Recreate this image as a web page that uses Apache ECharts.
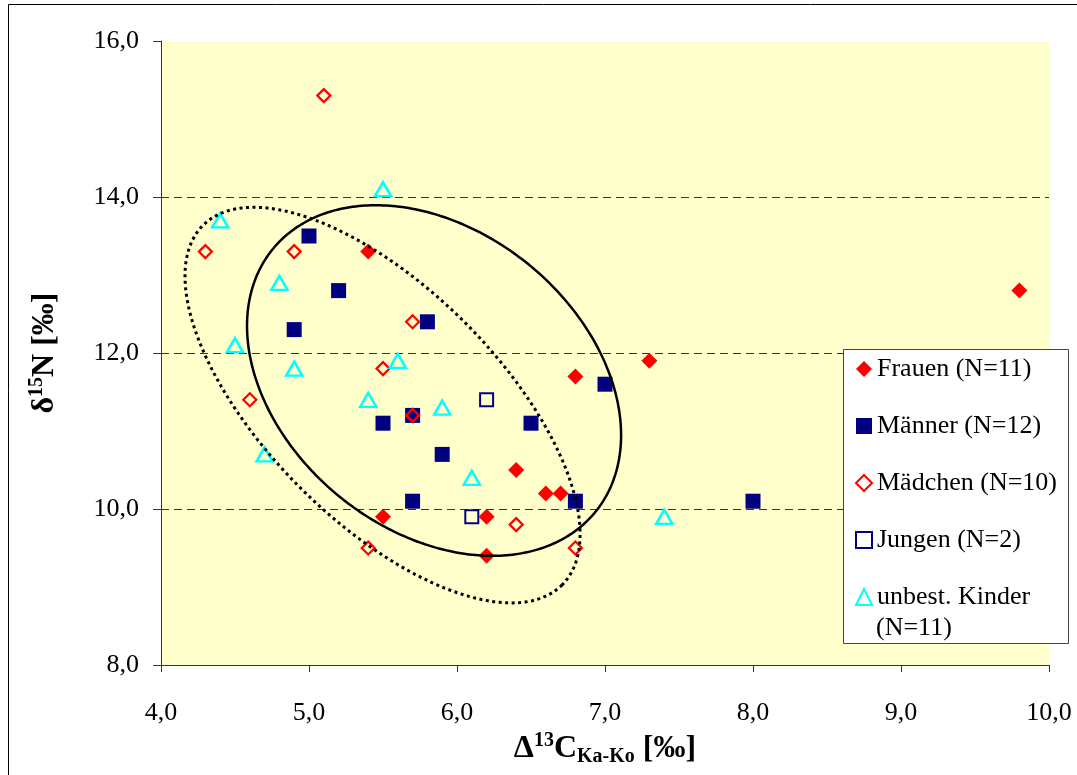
<!DOCTYPE html>
<html>
<head>
<meta charset="utf-8">
<script src="https://cdn.jsdelivr.net/npm/echarts@6/dist/echarts.min.js"></script>
<style>
  html, body { margin: 0; padding: 0; background: #ffffff; }
  #chart { width: 1077px; height: 775px; }
</style>
</head>
<body>
<div id="chart"></div>
<script>
// Axis ranges (Δ13C on x, δ15N on y)
const xRange = [4, 10, 1];
const yRange = [8, 16, 2];

// Adult women
const frauenX = [5.4, 6.8, 7.3, 9.8, 6.4, 6.6, 6.7, 5.5, 6.2, 6.2];
const frauenY = [13.3, 11.7, 11.9, 12.8, 10.5, 10.2, 10.2, 9.9, 9.9, 9.4];

// Adult men
const maennerX = [5.0, 5.2, 4.9, 5.8, 7.0, 5.5, 5.7, 6.5, 5.9, 5.7, 6.8, 8.0];
const maennerY = [13.5, 12.8, 12.3, 12.4, 11.6, 11.1, 11.2, 11.1, 10.7, 10.1, 10.1, 10.1];

// Girls
const maedchenX = [5.1, 4.3, 4.9, 5.7, 5.5, 4.6, 5.7, 6.4, 5.4, 6.8];
const maedchenY = [15.3, 13.3, 13.3, 12.4, 11.8, 11.4, 11.2, 9.8, 9.5, 9.5];

// Boys
const jungenX = [6.2, 6.1];
const jungenY = [11.4, 9.9];

// Children of undetermined sex
const kinderX = [4.4, 5.5, 4.8, 4.5, 4.9, 5.6, 5.4, 5.9, 4.7, 6.1, 7.4];
const kinderY = [13.7, 14.1, 12.9, 12.1, 11.8, 11.9, 11.4, 11.3, 10.7, 10.4, 9.9];

// Group ellipses: centre (x, y) and two conjugate half-axes (ux, uy), (vx, vy) in data units
const adultEllipse = [5.845, 11.647, 1.092, -1.680, -0.636, -1.493];
const childEllipse = [5.497, 11.332, 1.213, -2.305, -0.557, -1.058];

const seriesNames = ['Frauen (N=11)', 'Männer (N=12)', 'Mädchen (N=10)', 'Jungen (N=2)', 'unbest. Kinder (N=11)'];

const FONT = '"Liberation Serif", "Times New Roman", serif';
const RED = '#FF0000', NAVY = '#000080', CYAN = '#00FFFF';

function pairs(xs, ys) { return xs.map((x, i) => [x, ys[i]]); }
function fmt(v) { return v.toFixed(1).replace('.', ','); }

function ellipseRenderer(lineStyle) {
  return function (params, api) {
    const cx = api.value(0), cy = api.value(1);
    const ux = api.value(2), uy = api.value(3), vx = api.value(4), vy = api.value(5);
    const pts = [];
    const n = 360;
    for (let i = 0; i < n; i++) {
      const t = i / n * Math.PI * 2;
      const c = Math.cos(t), s = Math.sin(t);
      pts.push(api.coord([cx + ux * c + vx * s, cy + uy * c + vy * s]));
    }
    return {
      type: 'polygon',
      shape: { points: pts },
      style: Object.assign({ fill: 'none', stroke: '#000000' }, lineStyle)
    };
  };
}

const chart = echarts.init(document.getElementById('chart'), null, { renderer: 'canvas' });

const option = {
  backgroundColor: '#ffffff',
  animation: false,
  textStyle: { fontFamily: FONT },
  grid: {
    left: 161, right: 28, top: 41, bottom: 110,
    show: true, backgroundColor: '#FFFFCC', borderWidth: 0
  },
  xAxis: {
    type: 'value',
    min: xRange[0], max: xRange[1], interval: xRange[2],
    axisLine: { show: true, onZero: false, lineStyle: { color: '#333333', width: 1 } },
    axisTick: { show: true, inside: false, length: 7, lineStyle: { color: '#333333' } },
    axisLabel: { formatter: fmt, color: '#000', fontFamily: FONT, fontSize: 26, margin: 35 },
    splitLine: { show: false },
    name: '{a|Δ}{sup|13}{a|C}{sub|Ka-Ko}{a| [‰]}',
    nameLocation: 'middle',
    nameGap: 66,
    nameTextStyle: {
      rich: {
        a: { fontFamily: FONT, fontWeight: 'bold', fontSize: 32, color: '#000', lineHeight: 36 },
        sup: { fontFamily: FONT, fontWeight: 'bold', fontSize: 20, color: '#000', lineHeight: 20, verticalAlign: 'top' },
        sub: { fontFamily: FONT, fontWeight: 'bold', fontSize: 20, color: '#000', lineHeight: 20, verticalAlign: 'bottom' }
      }
    }
  },
  yAxis: {
    type: 'value',
    min: yRange[0], max: yRange[1], interval: yRange[2],
    axisLine: { show: true, onZero: false, lineStyle: { color: '#333333', width: 1 } },
    axisTick: { show: true, inside: false, length: 8, lineStyle: { color: '#333333' } },
    axisLabel: { formatter: fmt, color: '#000', fontFamily: FONT, fontSize: 26, margin: 22 },
    splitLine: {
      show: true,
      lineStyle: {
        color: ['rgba(0,0,0,0)', '#333333', '#333333', '#333333', 'rgba(0,0,0,0)'],
        type: [8, 5], width: 1
      }
    },
    name: '{a|δ}{sup|15}{a|N [‰]}',
    nameLocation: 'middle',
    nameRotate: 90,
    nameGap: 98,
    nameTextStyle: {
      rich: {
        a: { fontFamily: FONT, fontWeight: 'bold', fontSize: 32, color: '#000', lineHeight: 36 },
        sup: { fontFamily: FONT, fontWeight: 'bold', fontSize: 20, color: '#000', lineHeight: 20, verticalAlign: 'top' }
      }
    }
  },
  legend: {
    data: seriesNames,
    orient: 'vertical',
    left: 855,
    top: 355,
    itemWidth: 16,
    itemHeight: 16,
    itemGap: 29,
    selectedMode: false,
    padding: 0,
    formatter: function (name) { return name === seriesNames[4] ? 'unbest. Kinder' : name; },
    textStyle: { fontFamily: FONT, fontSize: 26, color: '#000', lineHeight: 28 },
    z: 10
  },
  graphic: [
    {
      type: 'rect',
      shape: { x: 843.5, y: 349.5, width: 225, height: 294 },
      style: { fill: '#ffffff', stroke: '#444444', lineWidth: 1 },
      z: 8
    },
    {
      type: 'text',
      style: { x: 876, y: 628, text: '(N=11)', font: '26px ' + FONT, fill: '#000', verticalAlign: 'middle' },
      z: 11
    },
    {
      type: 'rect',
      shape: { x: 8.5, y: 4.5, width: 1100, height: 800 },
      style: { fill: 'none', stroke: '#000000', lineWidth: 1 },
      silent: true,
      z: 20
    }
  ],
  series: [
    {
      name: seriesNames[0], type: 'scatter', data: pairs(frauenX, frauenY),
      symbol: 'diamond', symbolSize: 16,
      itemStyle: { color: RED, opacity: 1 }, z: 2
    },
    {
      name: seriesNames[1], type: 'scatter', data: pairs(maennerX, maennerY),
      symbol: 'rect', symbolSize: 15,
      itemStyle: { color: NAVY, opacity: 1 }, z: 2
    },
    {
      name: seriesNames[2], type: 'scatter', data: pairs(maedchenX, maedchenY),
      symbol: 'diamond', symbolSize: 13,
      itemStyle: { color: 'rgba(0,0,0,0)', borderColor: RED, borderWidth: 2.2, opacity: 1 }, z: 2
    },
    {
      name: seriesNames[3], type: 'scatter', data: pairs(jungenX, jungenY),
      symbol: 'rect', symbolSize: 13,
      itemStyle: { color: 'rgba(0,0,0,0)', borderColor: NAVY, borderWidth: 2, opacity: 1 }, z: 2
    },
    {
      name: seriesNames[4], type: 'scatter', data: pairs(kinderX, kinderY),
      symbol: 'triangle', symbolSize: [16, 14],
      itemStyle: { color: 'rgba(0,0,0,0)', borderColor: CYAN, borderWidth: 2.5, opacity: 1 }, z: 2
    },
    {
      type: 'custom', silent: true, z: 3,
      data: [adultEllipse],
      encode: { x: 0, y: 1 },
      renderItem: ellipseRenderer({ lineWidth: 2.5 })
    },
    {
      type: 'custom', silent: true, z: 3,
      data: [childEllipse],
      encode: { x: 0, y: 1 },
      renderItem: ellipseRenderer({ lineWidth: 3, lineDash: [3, 3.5], lineCap: 'butt' })
    }
  ]
};

chart.setOption(option);
</script>
</body>
</html>
